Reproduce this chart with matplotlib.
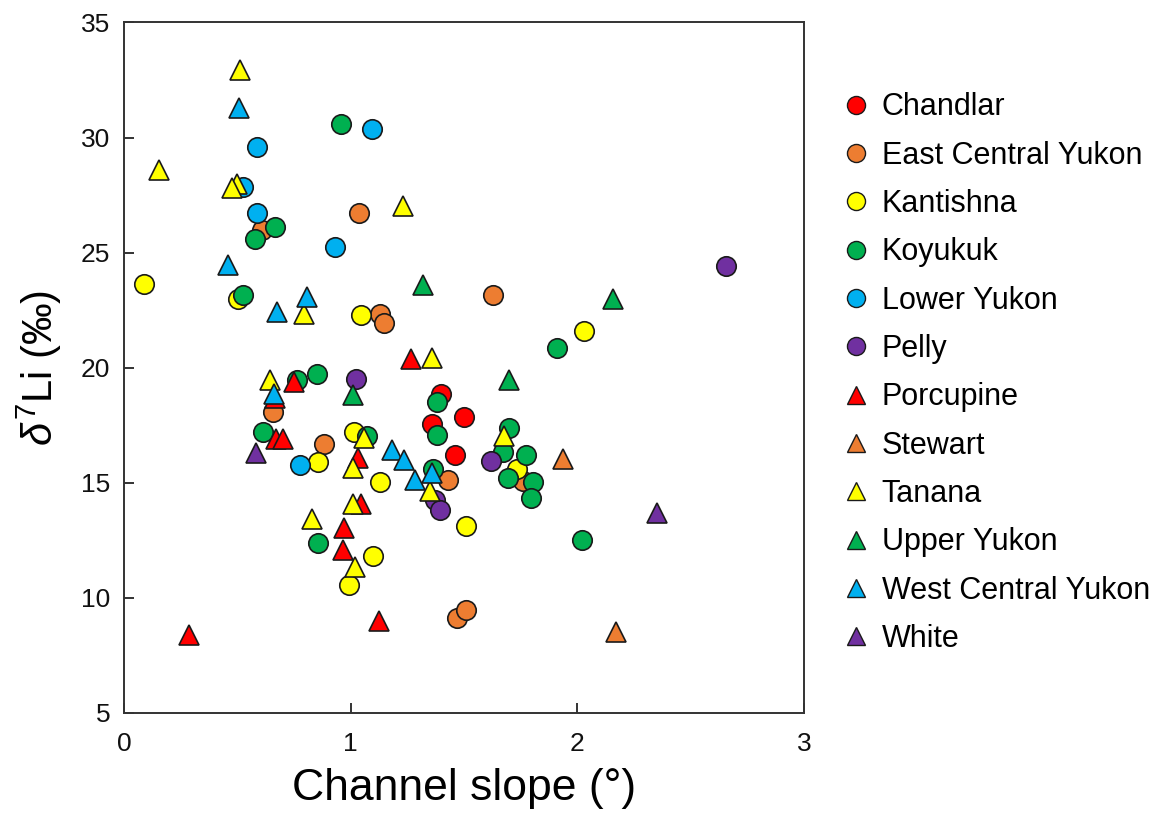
import matplotlib
matplotlib.use("Agg")
import matplotlib.pyplot as plt
from matplotlib.lines import Line2D

plt.rcParams['font.family'] = ['Liberation Sans', 'DejaVu Sans']
plt.rcParams['mathtext.fontset'] = 'custom'
plt.rcParams['mathtext.rm'] = 'Liberation Sans'
plt.rcParams['mathtext.it'] = 'Liberation Sans:italic'

# ---- data ----
chandlar_x = [1.40, 1.36, 1.50, 1.46]
chandlar_y = [18.85, 17.57, 17.88, 16.2]

ecy_x = [1.037, 1.131, 1.148, 1.629, 0.659, 0.882, 0.607, 1.429, 1.470, 1.507, 1.76]
ecy_y = [26.72, 22.34, 21.94, 23.17, 18.07, 16.67, 26.0, 15.13, 9.13, 9.49, 15.1]

kantishna_x = [0.088, 0.504, 1.047, 2.029, 1.015, 0.854, 1.129, 1.507, 1.10, 0.994, 1.732]
kantishna_y = [23.63, 22.98, 22.29, 21.6, 17.23, 15.9, 15.03, 13.14, 11.8, 10.58, 15.6]

koyukuk_x = [0.957, 0.668, 0.578, 0.523, 1.911, 0.853, 0.762, 1.382, 1.38, 1.70,
             0.612, 1.362, 1.07, 1.673, 1.772, 1.695, 1.805, 1.794, 2.019, 0.854]
koyukuk_y = [30.58, 26.13, 25.6, 23.17, 20.85, 19.74, 19.48, 18.51, 17.06, 17.38,
             17.21, 15.6, 17.02, 16.34, 16.19, 15.2, 15.04, 14.34, 12.5, 12.39]

lower_x = [1.095, 0.588, 0.526, 0.588, 0.931, 0.776]
lower_y = [30.36, 29.59, 27.87, 26.71, 25.24, 15.79]

pelly_x = [2.654, 1.022, 1.617, 1.372, 1.394]
pelly_y = [24.44, 19.51, 15.97, 14.27, 13.83]

porcupine_x = [1.266, 0.670, 0.703, 0.748, 1.033, 1.044, 0.970, 0.964, 1.125, 0.288, 0.666]
porcupine_y = [20.38, 16.91, 16.91, 19.4, 16.08, 14.08, 13.04, 12.1, 8.98, 8.40, 18.7]

stewart_x = [1.935, 2.169]
stewart_y = [16.05, 8.5]

tanana_x = [0.512, 0.154, 0.497, 0.475, 1.229, 0.794, 1.36, 0.646, 1.06, 1.676,
            1.009, 1.352, 1.011, 0.829, 1.019]
tanana_y = [32.94, 28.6, 28.0, 27.8, 27.03, 22.34, 20.42, 19.48, 16.94, 17.02,
            15.64, 14.63, 14.08, 13.43, 11.33]

upper_x = [1.318, 2.158, 1.70, 1.011]
upper_y = [23.6, 23.0, 19.48, 18.83]

wcy_x = [0.507, 0.46, 0.806, 0.676, 0.662, 1.181, 1.237, 1.283, 1.357]
wcy_y = [31.27, 24.47, 23.07, 22.42, 18.87, 16.41, 16.0, 15.14, 15.43]

white_x = [0.582, 2.353]
white_y = [16.29, 13.69]

series = [
    ("Chandlar", chandlar_x, chandlar_y, "o", "#FF0000"),
    ("East Central Yukon", ecy_x, ecy_y, "o", "#ED7D31"),
    ("Kantishna", kantishna_x, kantishna_y, "o", "#FFFF00"),
    ("Koyukuk", koyukuk_x, koyukuk_y, "o", "#00B050"),
    ("Lower Yukon", lower_x, lower_y, "o", "#00B0F0"),
    ("Pelly", pelly_x, pelly_y, "o", "#7030A0"),
    ("Porcupine", porcupine_x, porcupine_y, "^", "#FF0000"),
    ("Stewart", stewart_x, stewart_y, "^", "#ED7D31"),
    ("Tanana", tanana_x, tanana_y, "^", "#FFFF00"),
    ("Upper Yukon", upper_x, upper_y, "^", "#00B050"),
    ("West Central Yukon", wcy_x, wcy_y, "^", "#00B0F0"),
    ("White", white_x, white_y, "^", "#7030A0"),
]

fig = plt.figure(figsize=(11.72, 8.21), dpi=100)
ax = fig.add_axes([124/1172, 1 - 713/821, 680/1172, 690.5/821])

handles = []
for name, xs, ys, mk, col in series:
    ax.plot(xs, ys, linestyle="none", marker=mk, markersize=14,
            markerfacecolor=col, markeredgecolor="#1a1a1a", markeredgewidth=1.2,
            label=name)
    handles.append(Line2D([], [], linestyle="none", marker=mk, markersize=13,
                          markerfacecolor=col, markeredgecolor="#1a1a1a",
                          markeredgewidth=1.0, label=name))

ax.set_xlim(0, 3)
ax.set_ylim(5, 35)
ax.set_xticks([0, 1, 2, 3])
ax.set_yticks([5, 10, 15, 20, 25, 30, 35])
ax.tick_params(direction="in", length=7, width=1.2, labelsize=19, colors="#111111")
ax.tick_params(axis="x", pad=14)
ax.tick_params(axis="y", pad=10)
for s in ax.spines.values():
    s.set_linewidth(1.4)
    s.set_color("#333333")

ax.set_xlabel("Channel slope (°)", fontsize=32, labelpad=8)
ax.set_ylabel(r"$\delta^{7}$Li (‰)", fontsize=30, labelpad=12)

fig.legend(handles=handles, loc="upper left", bbox_to_anchor=(822/1172, 1 - 80/821),
           frameon=False, fontsize=22, labelspacing=0.6, handletextpad=0.15,
           handlelength=1.4, borderaxespad=0)

fig.savefig("out.png", dpi=100)
